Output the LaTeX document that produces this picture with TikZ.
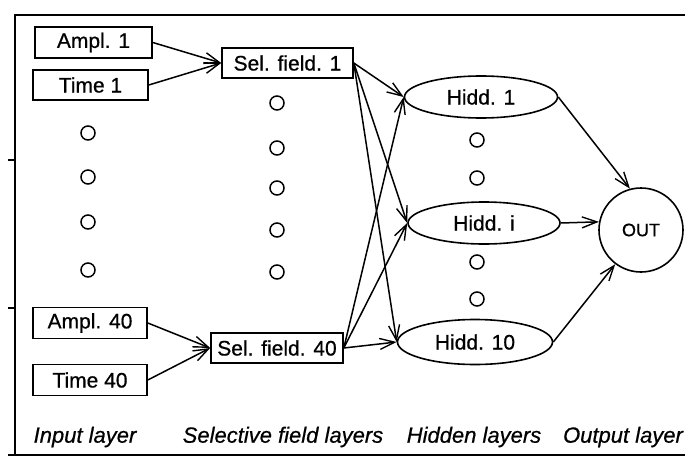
\documentclass[tikz,border=0pt]{standalone}
\usepackage{fontspec}
\setmainfont{Liberation Sans}[FakeBold=0.6]
\usetikzlibrary{arrows.meta,shapes.geometric}
\tikzset{
  box/.style={draw, line width=1.6pt, rectangle, inner sep=0pt, font=\fontsize{21}{23}\selectfont},
  hid/.style={draw, line width=1.6pt, ellipse, inner sep=0pt, font=\fontsize{21}{23}\selectfont},
  dot/.style={draw, line width=1.5pt, circle, minimum size=14pt, inner sep=0pt},
  outn/.style={draw, line width=1.6pt, circle, minimum size=84pt, inner sep=0pt, font=\fontsize{18}{20}\selectfont},
  conn/.style={line width=1.5pt, -{Straight Barb[length=15pt,width=11pt,line width=1.4pt]}},
  lbl/.style={font=\fontsize{22}{24}\selectfont\itshape},
  frame/.style={line width=1.3pt}
}
\begin{document}
\begin{tikzpicture}[x=1pt,y=-1pt]
\useasboundingbox (0,0) rectangle (685,460);
% frame
\coordinate (f1) at (685,15);
\coordinate (f2) at (15,15);
\coordinate (f3) at (15,455);
\coordinate (f4) at (8,455);
\coordinate (f5) at (685,455);
\draw[frame] (f1) -- (f2) -- (f3);
\draw[frame] (f4) -- (f5);
\coordinate (t1a) at (8,160); \coordinate (t1b) at (15,160);
\coordinate (t2a) at (8,308); \coordinate (t2b) at (15,308);
\draw[frame] (t1a) -- (t1b);
\draw[frame] (t2a) -- (t2b);
% input layer
\node[box, minimum width=117pt, minimum height=31pt] (a1) at (93.5,42.5) {Ampl. 1};
\node[box, minimum width=115pt, minimum height=30pt] (t1) at (90.5,85) {Time 1};
\node[box, minimum width=114pt, minimum height=31pt] (a40) at (90,323) {Ampl. 40};
\node[box, minimum width=114pt, minimum height=31pt] (t40) at (90,380) {Time 40};
\node[dot] (i1) at (88,133) {};
\node[dot] (i2) at (88,177) {};
\node[dot] (i3) at (88,222) {};
\node[dot] (i4) at (88,270) {};
% selective field layer
\node[box, minimum width=131pt, minimum height=30pt] (s1) at (287.5,63) {Sel. field. 1};
\node[box, minimum width=132pt, minimum height=30pt] (s40) at (277,348) {Sel. field. 40};
\node[dot] (sc1) at (277,103) {};
\node[dot] (sc2) at (277,148) {};
\node[dot] (sc3) at (277,188) {};
\node[dot] (sc4) at (277,230) {};
\node[dot] (sc5) at (277,272) {};
% hidden layer
\node[hid, minimum width=153pt, minimum height=42pt] (h1) at (481,97) {Hidd. 1};
\node[hid, minimum width=152pt, minimum height=42pt] (hi) at (484,223) {Hidd. i};
\node[hid, minimum width=155pt, minimum height=45pt] (h10) at (475,342) {Hidd. 10};
\node[dot] (hc1) at (477,140) {};
\node[dot] (hc2) at (477,178) {};
\node[dot] (hc3) at (477,262) {};
\node[dot] (hc4) at (477,299) {};
% output
\node[outn] (out) at (641,230) {OUT};
% connectors
\draw[conn] (a1.east) -- (s1.west);
\draw[conn] (t1.east) -- (s1.west);
\draw[conn] (a40.east) -- (s40.west);
\draw[conn] (t40.east) -- (s40.west);
\draw[conn] (s1.east) -- (h1.west);
\draw[conn] (s1.east) -- (hi.west);
\draw[conn] (s1.east) -- (h10.west);
\draw[conn] (s40.east) -- (h1.west);
\draw[conn] (s40.east) -- (hi.west);
\draw[conn] (s40.east) -- (h10.west);
\draw[conn] (h1.east) -- (out.105);
\draw[conn] (hi.east) -- (out.169);
\draw[conn] (h10.east) -- (out.233);
% labels
\node[lbl] (l1) at (85,437) {Input layer};
\node[lbl] (l2) at (283,437) {Selective field layers};
\node[lbl] (l3) at (474,437) {Hidden layers};
\node[lbl] (l4) at (623,437) {Output layer};
\end{tikzpicture}
\end{document}
